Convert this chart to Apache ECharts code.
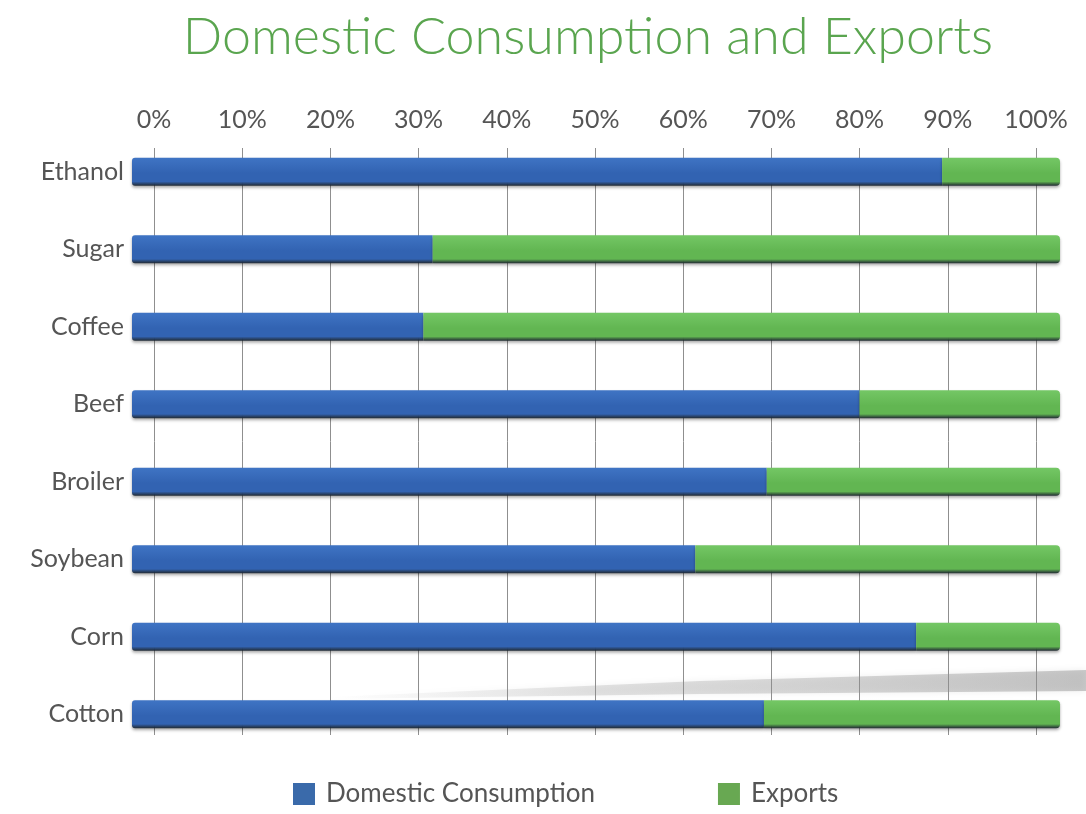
<!DOCTYPE html>
<html>
<head>
<meta charset="utf-8">
<title>Domestic Consumption and Exports</title>
<script src="https://cdn.jsdelivr.net/npm/echarts@6/dist/echarts.min.js"></script>
<style>
  html, body { margin: 0; padding: 0; background: #ffffff; }
  #chart { width: 1086px; height: 814px; }
</style>
</head>
<body>
<div id="chart"></div>
<script>
// Products, listed top to bottom
const products = ['Ethanol', 'Sugar', 'Coffee', 'Beef', 'Broiler', 'Soybean', 'Corn', 'Cotton'];
// Share of each product used at home and sent abroad (%)
const domestic = [87.3, 32.4, 31.4, 78.4, 68.4, 60.7, 84.5, 68.1];
const exports_ = [12.7, 67.6, 68.6, 21.6, 31.6, 39.3, 15.5, 31.9];
// Percent scale ticks
const pctTicks = [0, 10, 20, 30, 40, 50, 60, 70, 80, 90, 100];

const chart = echarts.init(document.getElementById('chart'));

const labelFont = 'Lato, "Open Sans", sans-serif';

function barStyle(top, bottom) {
  return {
    color: new echarts.graphic.LinearGradient(0, 0, 0, 1, [
      { offset: 0, color: top },
      { offset: 0.55, color: bottom },
      { offset: 0.85, color: bottom },
      { offset: 1, color: 'rgba(20,30,40,0.9)' }
    ]),
    shadowColor: 'rgba(0,0,0,0.35)',
    shadowBlur: 3,
    shadowOffsetY: 2
  };
}

chart.setOption({
  backgroundColor: '#ffffff',
  animation: false,
  title: {
    text: 'Domestic Consumption and Exports',
    left: 583,
    top: 6,
    textAlign: 'center',
    textStyle: {
      color: '#5aa54f',
      fontFamily: labelFont,
      fontWeight: 300,
      fontSize: 52
    }
  },
  // soft shadow band cast across the lower bars
  graphic: [
    {
      type: 'polygon',
      z: -1,
      silent: true,
      shape: { points: [[330, 697], [700, 681], [1086, 670], [1086, 691], [700, 694], [330, 699]] },
      style: {
        fill: new echarts.graphic.LinearGradient(0, 0, 1, 0, [
          { offset: 0, color: 'rgba(160,160,160,0)' },
          { offset: 0.35, color: 'rgba(160,160,160,0.28)' },
          { offset: 1, color: 'rgba(140,140,140,0.45)' }
        ]),
        shadowColor: 'rgba(150,150,150,0.4)',
        shadowBlur: 6
      }
    }
  ],
  legend: {
    bottom: 2,
    left: 288,
    itemGap: 123,
    itemWidth: 22,
    itemHeight: 22,
    icon: 'rect',
    textStyle: { color: '#555', fontFamily: labelFont, fontSize: 26, padding: [0, 0, 0, 6] },
    data: [
      { name: 'Domestic Consumption', itemStyle: { color: '#3a6aaa' } },
      { name: 'Exports', itemStyle: { color: '#68a852' } }
    ]
  },
  grid: [
    // percent scale with vertical grid lines
    { left: 154, right: 50, top: 148, bottom: 79 },
    // bars
    { left: 132, right: 26, top: 133, bottom: 61 }
  ],
  xAxis: [
    {
      gridIndex: 0,
      type: 'value',
      position: 'top',
      min: 0,
      max: 100,
      interval: 10,
      axisLine: { show: false },
      axisTick: { show: false },
      axisLabel: {
        margin: 16,
        color: '#555',
        fontFamily: labelFont,
        fontSize: 25,
        formatter: v => pctTicks.includes(v) ? v + '%' : ''
      },
      splitLine: { show: true, lineStyle: { color: '#8f8f8f', width: 1 } }
    },
    {
      gridIndex: 1,
      type: 'value',
      min: 0,
      max: 100,
      show: false
    }
  ],
  yAxis: [
    {
      gridIndex: 0,
      type: 'category',
      data: products,
      show: false
    },
    {
      gridIndex: 1,
      type: 'category',
      data: products,
      inverse: true,
      axisLine: { show: false },
      axisTick: { show: false },
      axisLabel: {
        margin: 8,
        color: '#555',
        fontFamily: labelFont,
        fontSize: 25
      }
    }
  ],
  series: [
    {
      name: 'Domestic Consumption',
      type: 'bar',
      xAxisIndex: 1,
      yAxisIndex: 1,
      stack: 'share',
      barWidth: 28,
      z: 3,
      data: domestic,
      itemStyle: Object.assign(barStyle('#3f74c4', '#3263b2'), { borderRadius: [3, 0, 0, 3] })
    },
    {
      name: 'Exports',
      type: 'bar',
      xAxisIndex: 1,
      yAxisIndex: 1,
      stack: 'share',
      barWidth: 28,
      z: 3,
      data: exports_,
      itemStyle: Object.assign(barStyle('#74c765', '#62b652'), { borderRadius: [0, 4, 4, 0] })
    }
  ]
});
</script>
</body>
</html>
